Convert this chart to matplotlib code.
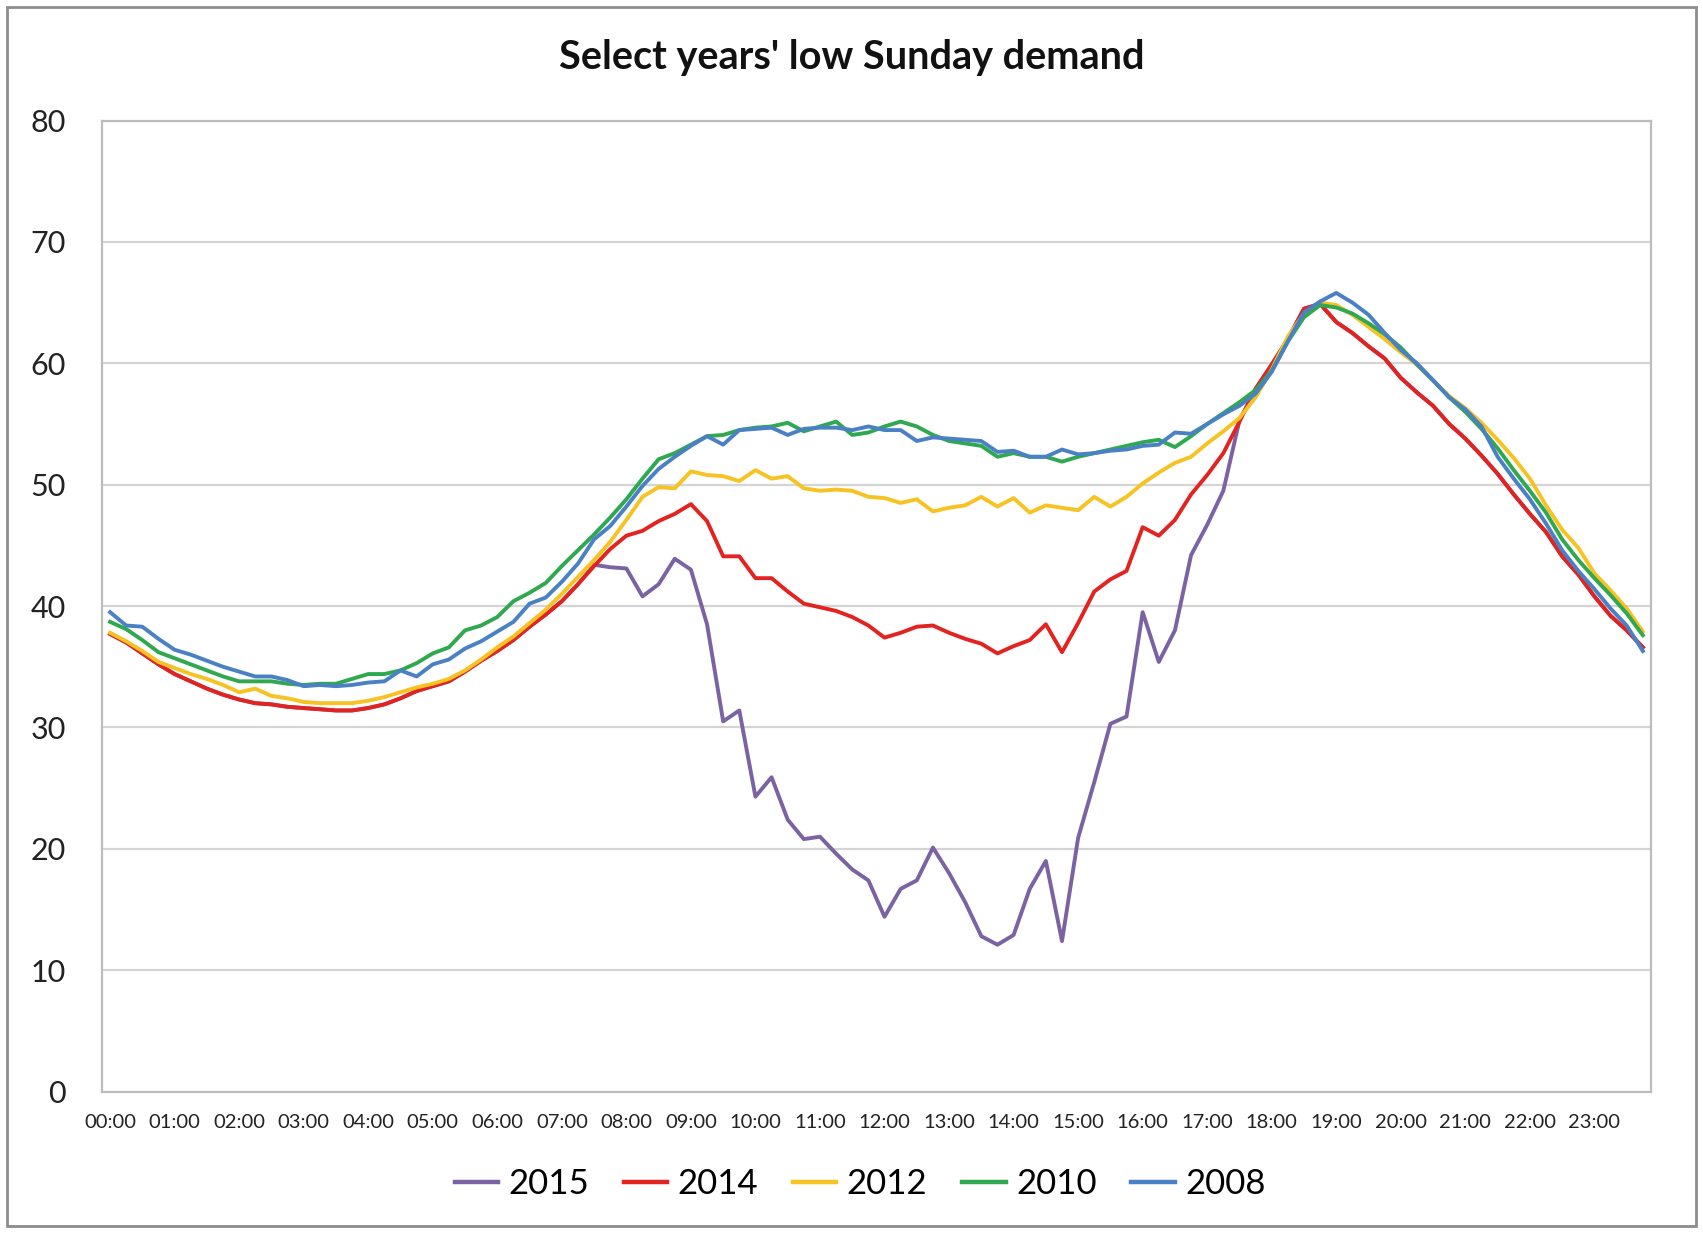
import matplotlib
matplotlib.use("Agg")
import matplotlib.pyplot as plt
from matplotlib.patches import Rectangle
import numpy as np

hour_labels = ["00:00", "01:00", "02:00", "03:00", "04:00", "05:00", "06:00", "07:00",
               "08:00", "09:00", "10:00", "11:00", "12:00", "13:00", "14:00", "15:00",
               "16:00", "17:00", "18:00", "19:00", "20:00", "21:00", "22:00", "23:00"]

y2015 = [37.7, 37.0, 36.1, 35.2, 34.4, 33.8, 33.2, 32.7, 32.3, 32.0,
         31.9, 31.7, 31.6, 31.5, 31.4, 31.4, 31.6, 31.9, 32.4, 33.0,
         33.4, 33.8, 34.6, 35.5, 36.3, 37.2, 38.3, 39.3, 40.4, 41.8,
         43.4, 43.2, 43.1, 40.8, 41.8, 43.9, 43.0, 38.5, 30.5, 31.4,
         24.3, 25.9, 22.4, 20.8, 21.0, 19.6, 18.3, 17.4, 14.4, 16.7,
         17.4, 20.1, 18.0, 15.6, 12.8, 12.1, 12.9, 16.7, 19.0, 12.4,
         20.9, 25.5, 30.3, 30.9, 39.5, 35.4, 38.0, 44.2, 46.7, 49.5,
         55.3, 57.9, 59.9, 62.0, 64.5, 64.9, 63.4, 62.5, 61.4, 60.4,
         58.8, 57.6, 56.5, 55.0, 53.8, 52.4, 50.9, 49.2, 47.6, 46.1,
         44.1, 42.6, 40.8, 39.2, 38.0, 36.6]

y2014 = [37.7, 37.0, 36.1, 35.2, 34.4, 33.8, 33.2, 32.7, 32.3, 32.0,
         31.9, 31.7, 31.6, 31.5, 31.4, 31.4, 31.6, 31.9, 32.4, 33.0,
         33.4, 33.8, 34.6, 35.5, 36.3, 37.2, 38.3, 39.3, 40.4, 41.8,
         43.3, 44.7, 45.8, 46.2, 47.0, 47.6, 48.4, 47.0, 44.1, 44.1,
         42.3, 42.3, 41.2, 40.2, 39.9, 39.6, 39.1, 38.4, 37.4, 37.8,
         38.3, 38.4, 37.8, 37.3, 36.9, 36.1, 36.7, 37.2, 38.5, 36.2,
         38.6, 41.2, 42.2, 42.9, 46.5, 45.8, 47.1, 49.2, 50.8, 52.6,
         55.2, 57.9, 59.9, 62.0, 64.5, 64.9, 63.4, 62.5, 61.4, 60.4,
         58.8, 57.6, 56.5, 55.0, 53.8, 52.4, 50.9, 49.2, 47.6, 46.1,
         44.1, 42.6, 40.8, 39.2, 38.0, 36.6]

y2012 = [37.8, 37.1, 36.3, 35.4, 34.9, 34.4, 34.0, 33.5, 32.9, 33.2,
         32.6, 32.4, 32.1, 32.0, 32.0, 32.0, 32.2, 32.5, 32.9, 33.3,
         33.6, 34.0, 34.7, 35.6, 36.6, 37.5, 38.6, 39.7, 41.0, 42.4,
         43.8, 45.3, 47.1, 49.0, 49.8, 49.7, 51.1, 50.8, 50.7, 50.3,
         51.2, 50.5, 50.7, 49.7, 49.5, 49.6, 49.5, 49.0, 48.9, 48.5,
         48.8, 47.8, 48.1, 48.3, 49.0, 48.2, 48.9, 47.7, 48.3, 48.1,
         47.9, 49.0, 48.2, 49.0, 50.1, 51.0, 51.8, 52.3, 53.4, 54.4,
         55.5, 57.2, 59.5, 62.2, 64.1, 65.0, 64.8, 64.0, 63.0, 62.0,
         60.9, 59.9, 58.6, 57.3, 56.3, 55.1, 53.7, 52.2, 50.5, 48.3,
         46.3, 44.8, 42.7, 41.3, 39.8, 37.9]

y2010 = [38.7, 38.1, 37.2, 36.2, 35.7, 35.2, 34.7, 34.2, 33.8, 33.8,
         33.8, 33.6, 33.5, 33.6, 33.6, 34.0, 34.4, 34.4, 34.7, 35.3,
         36.1, 36.6, 38.0, 38.4, 39.1, 40.4, 41.1, 41.9, 43.3, 44.6,
         45.9, 47.3, 48.8, 50.5, 52.1, 52.6, 53.3, 54.0, 54.1, 54.5,
         54.7, 54.8, 55.1, 54.4, 54.8, 55.2, 54.1, 54.3, 54.8, 55.2,
         54.8, 54.1, 53.6, 53.4, 53.2, 52.3, 52.6, 52.3, 52.3, 51.9,
         52.3, 52.6, 52.9, 53.2, 53.5, 53.7, 53.1, 54.0, 55.0, 55.9,
         56.8, 57.8, 59.4, 61.8, 63.8, 64.8, 64.6, 64.1, 63.3, 62.4,
         61.3, 59.9, 58.6, 57.2, 56.0, 54.6, 53.0, 51.2, 49.5, 47.7,
         45.5, 43.8, 42.3, 40.9, 39.4, 37.6]

y2008 = [39.5, 38.4, 38.3, 37.3, 36.4, 36.0, 35.5, 35.0, 34.6, 34.2,
         34.2, 33.9, 33.4, 33.5, 33.4, 33.5, 33.7, 33.8, 34.7, 34.2,
         35.2, 35.6, 36.5, 37.1, 37.9, 38.7, 40.2, 40.7, 42.0, 43.5,
         45.5, 46.6, 48.2, 49.9, 51.3, 52.3, 53.2, 54.0, 53.3, 54.5,
         54.6, 54.7, 54.1, 54.6, 54.7, 54.7, 54.5, 54.8, 54.5, 54.5,
         53.6, 53.9, 53.8, 53.7, 53.6, 52.7, 52.8, 52.3, 52.3, 52.9,
         52.5, 52.6, 52.8, 52.9, 53.2, 53.3, 54.3, 54.2, 55.0, 55.8,
         56.5, 57.5, 59.3, 61.8, 64.2, 65.1, 65.8, 65.0, 64.0, 62.5,
         61.1, 60.0, 58.6, 57.2, 56.2, 54.8, 52.3, 50.5, 48.8, 46.8,
         44.6, 42.9, 41.4, 39.8, 38.4, 36.3]

series_names = ["2015", "2014", "2012", "2010", "2008"]
series_values = [y2015, y2014, y2012, y2010, y2008]
series_colors = ["#7a62a3", "#e3231f", "#f6c323", "#2fa84f", "#4a80c4"]

FONT = ["Lato", "DejaVu Sans"]

fig = plt.figure(figsize=(17.03, 12.33), dpi=100)
ax = fig.add_axes([0.0599, 0.1147, 0.9095, 0.7875])

x = np.arange(len(y2015))
lines = []
for name, vals, col in zip(series_names, series_values, series_colors):
    ln, = ax.plot(x, vals, color=col, lw=2.8, label=name, solid_joinstyle="round")
    lines.append(ln)

ax.set_xlim(-0.5, len(x) - 0.5)
ax.set_ylim(0, 80)
ax.set_yticks(np.arange(0, 81, 10))
ax.set_yticklabels([str(v) for v in range(0, 81, 10)], fontsize=22, family=FONT)
ax.set_xticks(np.arange(0, len(x), 4))
ax.set_xticklabels(hour_labels, fontsize=14.5, family=FONT)
ax.tick_params(axis="y", length=0, pad=26, colors="#222222")
ax.tick_params(axis="x", length=0, pad=16, colors="#222222")
ax.grid(axis="y", color="#d4d4d4", lw=1.6)
ax.set_axisbelow(True)
for s in ax.spines.values():
    s.set_color("#bdbdbd")
    s.set_linewidth(1.6)

fig.text(0.5, 0.953, "Select years' low Sunday demand", ha="center", va="center",
         fontsize=28.5, fontweight="bold", family=FONT, color="#111111")

leg = fig.legend(handles=lines, labels=series_names, loc="center", bbox_to_anchor=(0.505, 0.040),
                 ncol=5, frameon=False, handlelength=1.25, handletextpad=0.3,
                 columnspacing=1.0, prop={"family": FONT, "size": 25})
for h in leg.legend_handles:
    h.set_linewidth(3.2)

fig.add_artist(Rectangle((0.004, 0.006), 0.992, 0.988, transform=fig.transFigure,
                         fill=False, edgecolor="#8c8c8c", lw=2.0))

fig.savefig("out.png", dpi=100, facecolor="white")
